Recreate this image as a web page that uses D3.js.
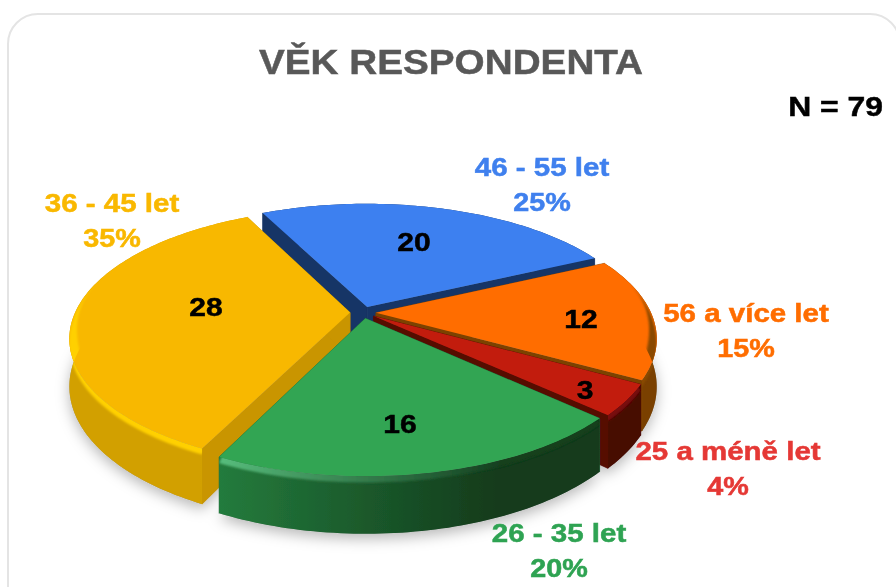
<!DOCTYPE html>
<html>
<head>
<meta charset="utf-8">
<script src="https://cdn.jsdelivr.net/npm/d3@7/dist/d3.min.js"></script>
<style>
html,body{margin:0;padding:0;background:#fff;overflow:hidden}
svg{display:block}
text{font-family:"Liberation Sans",Arial,sans-serif;font-weight:700}
</style>
</head>
<body>
<svg id="c" width="896" height="587"></svg>
<script>
const categories = ["46 - 55 let","56 a více let","25 a méně let","26 - 35 let","36 - 45 let"];
const values = [20,12,3,16,28];
const sampleSize = 79;
const titleText = "VĚK RESPONDENTA";

const topColors  = ["#3d80f0","#ff6d00","#c21d10","#30a552","#f8b800"];
const textColors = ["#3f80ee","#ff6d00","#e53935","#2fa352","#f9b800"];
const edgeColors = ["#173566","#7c4300","#570b05","#1d6a36","#c99500"];
const wallLeft   = ["#173566","#a85c00","#5e0d07","#25803f","#d2a000"];
const wallRight  = ["#173566","#7a4000","#470804","#123a1b","#c08e00"];
const bevelLeft  = ["#3d80f0","#d56000","#9a150b","#5cc683","#ffd000"];
const bevelRight = ["#3d80f0","#8a4a00","#7a100a","#14401f","#f2b600"];
const labelCentres = [[542,167],[746,313],[728,451],[559,533],[112,203]];
const valueCentres = [[414,242],[581,319],[585,390],[400,424],[206,307]];
const drawOrder = [0,1,4,2,3];

const svg = d3.select("#c");
const W=896, HT=587;
const cx=363, cy=312.5, R=275, K=125, D=5.2, H=46, EXPLODE=0.047;
const START=-26.5*Math.PI/180;

function project(a, r, depth, off){
  const x = r*Math.sin(a)+off[0], y = -r*Math.cos(a)+off[1];
  const s = D/(D-y);
  return [cx+x*R*s, cy+y*K*s+depth*s];
}

const arcs = d3.pie().sort(null).startAngle(START).endAngle(START+2*Math.PI)(values);
const defs = svg.append("defs");
function fullFilter(id){
  return defs.append("filter").attr("id",id).attr("filterUnits","userSpaceOnUse")
    .attr("x",-20).attr("y",-20).attr("width",W+40).attr("height",HT+40);
}
fullFilter("sh").append("feDropShadow").attr("dx",0).attr("dy",5).attr("stdDeviation",7).attr("flood-color","#000").attr("flood-opacity",0.28);
fullFilter("soft").append("feGaussianBlur").attr("stdDeviation",1.2);
fullFilter("fuzz").append("feGaussianBlur").attr("stdDeviation",0.45);

function hGrad(id,c0,c1){
  const g=defs.append("linearGradient").attr("id",id).attr("gradientUnits","userSpaceOnUse")
    .attr("x1",cx-0.6*R).attr("x2",cx+0.5*R).attr("y1",0).attr("y2",0);
  g.append("stop").attr("offset",0).attr("stop-color",c0);
  g.append("stop").attr("offset",1).attr("stop-color",c1);
}

const root = svg.append("g").attr("filter","url(#fuzz)");
root.append("rect").attr("x",8).attr("y",14).attr("width",892).attr("height",640).attr("rx",30)
  .attr("fill","#fff").attr("stroke","#e4e4e4").attr("stroke-width",2);

const line = d3.line();
const pieG = root.append("g");
const silhouette = pieG.append("g").attr("filter","url(#sh)");
const body = pieG.append("g");

const slices = arcs.map((d,i)=>{
  const mid=(d.startAngle+d.endAngle)/2;
  const off=[EXPLODE*Math.sin(mid),-EXPLODE*Math.cos(mid)];
  const n=Math.max(8,Math.ceil((d.endAngle-d.startAngle)/0.02));
  const angles=d3.range(n+1).map(j=>d.startAngle+(d.endAngle-d.startAngle)*j/n);
  return {d,i,off,angles};
});

function outline(s,depth){
  return line([project(0,0,depth,s.off),...s.angles.map(a=>project(a,1,depth,s.off))])+"Z";
}
function wallOf(s,a){
  return line([project(0,0,0,s.off),project(a,1,0,s.off),project(a,1,H,s.off),project(0,0,H,s.off)])+"Z";
}
function rimWall(s){
  return line([...s.angles.map(a=>project(a,1,0,s.off)),...s.angles.slice().reverse().map(a=>project(a,1,H,s.off))])+"Z";
}
const fade=a=>{const t=Math.max(0,Math.min(1,(-Math.cos(a)+0.3)/0.6));return t*t*(3-2*t);};

drawOrder.forEach(i=>{
  const s=slices[i];
  silhouette.append("path").attr("d",outline(s,H)).attr("fill","#999");
  hGrad("wall"+i,wallLeft[i],wallRight[i]);
  hGrad("bev"+i,bevelLeft[i],bevelRight[i]);

  const g=body.append("g");
  [s.d.startAngle,s.d.endAngle].forEach(a=>{
    g.append("path").attr("d",wallOf(s,a)).attr("fill",edgeColors[i]).attr("stroke",edgeColors[i]).attr("stroke-width",0.5);
  });
  g.append("path").attr("d",rimWall(s)).attr("fill",`url(#wall${i})`);
  g.append("path").attr("d",outline(s,0)).attr("fill",topColors[i]);

  const clipId="clip"+i;
  const topArc=s.angles.map(a=>project(a,1,0,s.off));
  const lowArc=s.angles.slice().reverse().map(a=>project(a,1,H,s.off));
  defs.append("clipPath").attr("id",clipId).append("path").attr("d",
    line([project(0,0,0,s.off),...topArc,...lowArc,topArc[0]])+"Z");
  const inner=s.angles.map(a=>project(a,1-0.03*fade(a),0,s.off));
  const outer=s.angles.map(a=>project(a,1,5*fade(a),s.off));
  g.append("g").attr("clip-path",`url(#${clipId})`)
    .append("path").attr("filter","url(#soft)")
    .attr("d",line([...inner,...outer.reverse()])+"Z").attr("fill",`url(#bev${i})`);
});

const texts=root.append("g");
function label(x,y,str,size,fill,sx,anchor){
  texts.append("text").attr("transform",`translate(${x},${y}) scale(${sx},1)`)
    .attr("text-anchor",anchor||"middle").attr("font-size",size).attr("fill",fill)
    .attr("stroke",fill).attr("stroke-width",0.5).text(str);
}
label(451,74,titleText,36,"#595959",1.075);
label(883,116,"N = "+sampleSize,27,"#000",1.18,"end");

const pctFmt=d3.format(".0%");
categories.forEach((c,i)=>{
  const [x,y]=labelCentres[i];
  label(x,y+9,c,25,textColors[i],1.18);
  label(x,y+44,pctFmt(values[i]/sampleSize),25,textColors[i],1.15);
  const [vx,vy]=valueCentres[i];
  label(vx,vy+9,String(values[i]),25,"#000",1.2);
});
</script>
</body>
</html>
